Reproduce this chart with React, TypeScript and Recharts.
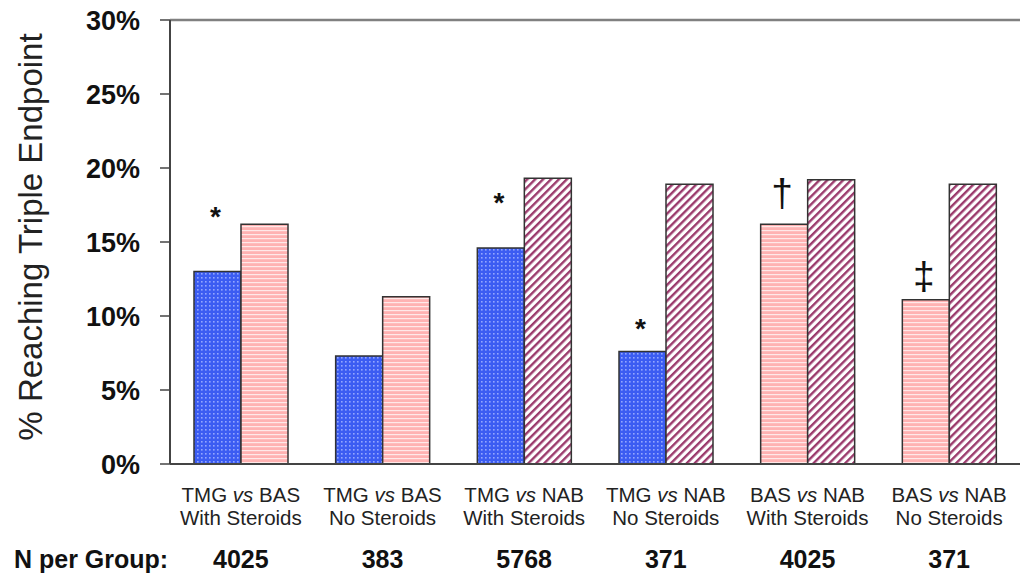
import React from 'react';
import { BarChart, Bar, XAxis, YAxis, Cell, LabelList, ReferenceLine } from 'recharts';

// ---- data ----
const leftArm = ['TMG', 'TMG', 'TMG', 'TMG', 'BAS', 'BAS'];
const rightArm = ['BAS', 'BAS', 'NAB', 'NAB', 'NAB', 'NAB'];
const steroidLabels = ['With Steroids', 'No Steroids', 'With Steroids', 'No Steroids', 'With Steroids', 'No Steroids'];
const leftValues = [13.0, 7.3, 14.6, 7.6, 16.2, 11.1];
const rightValues = [16.2, 11.3, 19.3, 18.9, 19.2, 18.9];
const nPerGroup = ['4025', '383', '5768', '371', '4025', '371'];
const significanceMarks = ['*', '', '*', '*', '\u2020', '\u2021'];
const markLevels = [16.1, 0, 17.0, 8.5, 17.4, 11.8];
const yTicks = [0, 5, 10, 15, 20, 25, 30];

const categories = leftArm.map((a, i) => `${a} vs ${rightArm[i]} ${steroidLabels[i]}`);

const data = categories.map((c, i) => ({
  category: c,
  left: leftValues[i],
  right: rightValues[i],
  mark: significanceMarks[i],
}));

const FONT = '"Liberation Sans", Arial, Helvetica, sans-serif';
const fillFor = (arm: string) => `url(#pat-${arm})`;

const CategoryTick = (props: any) => {
  const { x, y, payload } = props;
  const i = categories.indexOf(payload.value);
  if (i < 0) return null;
  return (
    <g>
      <text x={x} y={y + 38} textAnchor="middle" fontFamily={FONT} fontSize={20.5} fill="#222">
        <tspan>{leftArm[i]} </tspan>
        <tspan fontStyle="italic">vs</tspan>
        <tspan> {rightArm[i]}</tspan>
      </text>
      <text x={x} y={y + 61} textAnchor="middle" fontFamily={FONT} fontSize={20.5} fill="#222">
        {steroidLabels[i]}
      </text>
      <text x={x} y={y + 104} textAnchor="middle" fontFamily={FONT} fontSize={25} fontWeight="bold" fill="#111">
        {nPerGroup[i]}
      </text>
    </g>
  );
};

const MarkLabel = (props: any) => {
  const { x, y, width, height, index } = props;
  const mark = significanceMarks[index];
  if (!mark) return null;
  const perUnit = height / leftValues[index];
  const baseY = y + height - markLevels[index] * perUnit;
  const isStar = mark === '*';
  return (
    <text
      x={x + width / 2 - 2}
      y={baseY}
      textAnchor="middle"
      fontFamily={FONT}
      fontSize={isStar ? 28 : 39}
      fontWeight={isStar ? 'bold' : 'normal'}
      fill="#111"
    >
      {mark}
    </text>
  );
};

export default function App() {
  return (
    <div style={{ position: 'absolute', left: 0, top: 0, width: 1022, height: 576, background: '#fff' }}>
      <BarChart
        width={1022}
        height={576}
        data={data}
        margin={{ top: 20, right: 2, bottom: 0, left: 0 }}
        barGap={0}
        barSize={47}
      >
        <defs>
          <pattern id="pat-TMG" width="4" height="4" patternUnits="userSpaceOnUse">
            <rect x="0" y="0" width="4" height="4" fill="#3b5cf2" />
            <rect x="1" y="1" width="1.6" height="1.6" fill="#93a6ff" />
          </pattern>
          <pattern id="pat-BAS" width="4" height="4" patternUnits="userSpaceOnUse">
            <rect x="0" y="0" width="4" height="4" fill="#ffb2b2" />
            <rect x="0" y="2" width="4" height="1.2" fill="#ffe8e8" />
          </pattern>
          <pattern id="pat-NAB" width="5.6" height="5.6" patternUnits="userSpaceOnUse" patternTransform="rotate(45)">
            <rect x="0" y="0" width="5.6" height="5.6" fill="#ffffff" />
            <rect x="0" y="0" width="2.4" height="5.6" fill="#9b3a6c" />
          </pattern>
        </defs>
        <XAxis
          dataKey="category"
          height={112}
          interval={0}
          tickLine={false}
          tickSize={0}
          tickMargin={0}
          axisLine={{ stroke: '#444', strokeWidth: 2 }}
          tick={<CategoryTick />}
          label={{
            content: () => (
              <text x={14} y={568} fontFamily={FONT} fontSize={25} fontWeight="bold" fill="#111">
                N per Group:
              </text>
            ),
          }}
        />
        <YAxis
          yAxisId="left"
          width={170}
          domain={[0, 30]}
          ticks={yTicks}
          interval={0}
          tickFormatter={(v: number) => `${v}%`}
          tickSize={10}
          tickMargin={20}
          tickLine={{ stroke: '#444', strokeWidth: 1.5 }}
          axisLine={{ stroke: '#444', strokeWidth: 2 }}
          tick={{ fontFamily: FONT, fontSize: 27, fontWeight: 'bold', fill: '#111' }}
          label={{
            content: () => (
              <text
                x={42}
                y={237}
                textAnchor="middle"
                transform="rotate(-90, 42, 237)"
                fontFamily={FONT}
                fontSize={33}
                fill="#222"
              >
                % Reaching Triple Endpoint
              </text>
            ),
          }}
        />
        <YAxis
          yAxisId="right"
          orientation="right"
          width={0}
          domain={[0, 30]}
          tick={false}
          tickLine={false}
          axisLine={{ stroke: '#888', strokeWidth: 1.5 }}
        />
        <ReferenceLine yAxisId="left" y={30} stroke="#808080" strokeWidth={2.5} />
        <Bar yAxisId="left" dataKey="left" stroke="#333" strokeWidth={1.5} isAnimationActive={false}>
          {data.map((d, i) => (
            <Cell key={`l-${i}`} fill={fillFor(leftArm[i])} />
          ))}
          <LabelList dataKey="mark" content={<MarkLabel />} />
        </Bar>
        <Bar yAxisId="left" dataKey="right" stroke="#333" strokeWidth={1.5} isAnimationActive={false}>
          {data.map((d, i) => (
            <Cell key={`r-${i}`} fill={fillFor(rightArm[i])} />
          ))}
        </Bar>
      </BarChart>
    </div>
  );
}
